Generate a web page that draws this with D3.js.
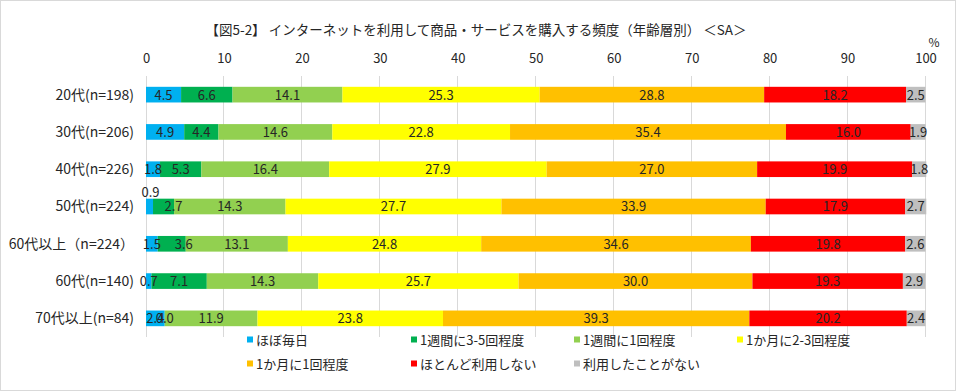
<!DOCTYPE html>
<html>
<head>
<meta charset="utf-8">
<script src="https://cdn.jsdelivr.net/npm/d3@7"></script>
<style>
  body { margin: 0; background: #fff; }
  text { font-family: "Noto Sans CJK JP", "Noto Sans", sans-serif; fill: #262626; }
</style>
</head>
<body>
<div id="chart"></div>
<script>
// Data
var categories = ['20代(n=198)', '30代(n=206)', '40代(n=226)', '50代(n=224)', '60代以上（n=224）', '60代(n=140)', '70代以上(n=84)'];
var seriesNames = ['ほぼ毎日', '1週間に3-5回程度', '1週間に1回程度', '1か月に2-3回程度', '1か月に1回程度', 'ほとんど利用しない', '利用したことがない'];
var seriesColors = ['#00b0f0', '#00b050', '#92d050', '#ffff00', '#ffc000', '#ff0000', '#bfbfbf'];
var almostDaily   = [4.5, 4.9, 1.8, 0.9, 1.5, 0.7, 2.4];
var weekly3to5    = [6.6, 4.4, 5.3, 2.7, 3.6, 7.1, 0.0];
var weekly1       = [14.1, 14.6, 16.4, 14.3, 13.1, 14.3, 11.9];
var monthly2to3   = [25.3, 22.8, 27.9, 27.7, 24.8, 25.7, 23.8];
var monthly1      = [28.8, 35.4, 27.0, 33.9, 34.6, 30.0, 39.3];
var rarely        = [18.2, 16.0, 19.9, 17.9, 19.8, 19.3, 20.2];
var never         = [2.5, 1.9, 1.8, 2.7, 2.6, 2.9, 2.4];
var tickValues = [0, 10, 20, 30, 40, 50, 60, 70, 80, 90, 100];

var seriesValues = [almostDaily, weekly3to5, weekly1, monthly2to3, monthly1, rarely, never];

// labels that were moved by hand in the original
var labelNudge = {
  '3|0': [1, -14],
  '3|1': [10, 0],
  '4|1': [12, 0]
};

var width = 956, height = 391;

var svg = d3.select('#chart').append('svg')
  .attr('width', width)
  .attr('height', height);

// Outer border
svg.append('rect')
  .attr('x', 0.5).attr('y', 0.5)
  .attr('width', width - 1).attr('height', height - 1)
  .attr('fill', '#fff')
  .attr('stroke', '#d9d9d9');

// Title
svg.append('text')
  .attr('x', 476)
  .attr('y', 35)
  .attr('text-anchor', 'middle')
  .style('font-size', '13.5px')
  .text('【図5-2】 インターネットを利用して商品・サービスを購入する頻度（年齢層別） ＜SA＞');

var x = d3.scaleLinear().domain([0, 100]).range([146, 925.5]);
var y = d3.scaleBand().domain(categories).range([76, 337]).paddingInner(0.58).paddingOuter(0.29);

// Gridlines
svg.append('g').selectAll('line')
  .data(tickValues)
  .join('line')
    .attr('x1', d => x(d)).attr('x2', d => x(d))
    .attr('y1', 76).attr('y2', 337)
    .attr('stroke', '#d9d9d9')
    .attr('stroke-width', 1)
    .attr('shape-rendering', 'crispEdges');

// Top axis
var axis = svg.append('g')
  .attr('transform', 'translate(0,63)')
  .call(d3.axisTop(x).tickValues(tickValues).tickSize(0).tickPadding(0));
axis.select('.domain').remove();
axis.selectAll('text')
  .style('font-size', '13px')
  .style('font-family', '"Noto Sans CJK JP", sans-serif')
  .attr('fill', '#262626');

svg.append('text')
  .attr('x', 934)
  .attr('y', 47)
  .attr('text-anchor', 'middle')
  .style('font-size', '12px')
  .text('%');

// Category labels
svg.append('g').selectAll('text')
  .data(categories)
  .join('text')
    .attr('x', 134)
    .attr('y', d => y(d) + y.bandwidth() / 2)
    .attr('dy', '0.35em')
    .attr('text-anchor', 'end')
    .style('font-size', '14px')
    .text(d => d);

// Stack the series per row
var rows = categories.map((cat, i) => {
  var start = 0;
  return seriesValues.map((vals, s) => {
    var seg = { cat: cat, row: i, series: s, value: vals[i], x0: start, x1: start + vals[i] };
    start += vals[i];
    return seg;
  });
});
var segments = d3.merge(rows);

svg.append('g').selectAll('rect')
  .data(segments)
  .join('rect')
    .attr('x', d => x(d.x0))
    .attr('y', d => y(d.cat))
    .attr('width', d => Math.max(0, x(d.x1) - x(d.x0)))
    .attr('height', y.bandwidth())
    .attr('fill', d => seriesColors[d.series]);

// Data labels
svg.append('g').selectAll('text')
  .data(segments)
  .join('text')
    .attr('x', d => {
      var n = labelNudge[d.row + '|' + d.series];
      return (x(d.x0) + x(d.x1)) / 2 + (n ? n[0] : 0);
    })
    .attr('y', d => {
      var n = labelNudge[d.row + '|' + d.series];
      return y(d.cat) + y.bandwidth() / 2 + (n ? n[1] : 0);
    })
    .attr('dy', '0.38em')
    .attr('text-anchor', 'middle')
    .style('font-size', '13px')
    .text(d => d3.format('.1f')(d.value));

// Legend
var legendCols = [247, 411, 574, 737];
var legendRows = [340, 364];
var legend = svg.append('g').selectAll('g')
  .data(seriesNames)
  .join('g')
    .attr('transform', (d, i) => 'translate(' + legendCols[i % 4] + ',' + legendRows[Math.floor(i / 4)] + ')');

legend.append('rect')
  .attr('x', 0).attr('y', -3.5)
  .attr('width', 6).attr('height', 6)
  .attr('fill', (d, i) => seriesColors[i]);

legend.append('text')
  .attr('x', 9)
  .attr('y', 0)
  .attr('dy', '0.35em')
  .style('font-size', '13px')
  .text(d => d);
</script>
</body>
</html>
